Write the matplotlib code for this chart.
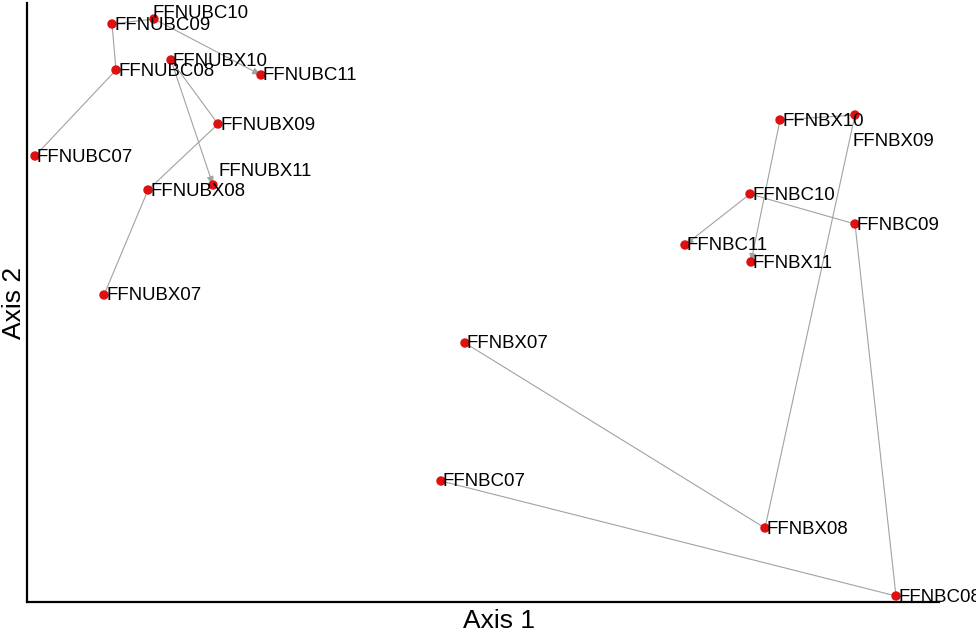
import matplotlib
matplotlib.use("Agg")
import matplotlib.pyplot as plt

plt.rcParams['font.family'] = ['Liberation Sans', 'DejaVu Sans']

# Ordination scores (arbitrary axis units), trajectories 07 -> 11
groups = ["FFNUBC", "FFNUBX", "FFNBC", "FFNBX"]
years = ["07", "08", "09", "10", "11"]

FFNUBC_x = [8, 89, 85, 127, 234]
FFNUBC_y = [446, 532, 578, 583, 527]
FFNUBX_x = [77, 121, 191, 144, 186]
FFNUBX_y = [307, 412, 478, 542, 417]
FFNBC_x = [414, 869, 828, 723, 658]
FFNBC_y = [121, 6, 378, 408, 357]
FFNBX_x = [438, 738, 828, 753, 724]
FFNBX_y = [259, 74, 487, 482, 340]

series = {
    "FFNUBC": (FFNUBC_x, FFNUBC_y),
    "FFNUBX": (FFNUBX_x, FFNUBX_y),
    "FFNBC": (FFNBC_x, FFNBC_y),
    "FFNBX": (FFNBX_x, FFNBX_y),
}

# label offsets in pixels (layout only)
label_offset = {
    "FFNUBC10": (-2, 6),
    "FFNUBX11": (5, 14),
    "FFNBX09": (-3, -27),
}

fig = plt.figure(figsize=(9.76, 6.35), dpi=100)
ax = fig.add_axes([27/976, 33/635, 912/976, 599/635])

line_col = "#a2a2a2"
for g in groups:
    xs, ys = series[g]
    ax.plot(xs[:-1], ys[:-1], color=line_col, lw=0.8, zorder=1)
    ax.annotate("", xy=(xs[-1], ys[-1]), xytext=(xs[-2], ys[-2]),
                arrowprops=dict(arrowstyle="-|>,head_length=0.5,head_width=0.2",
                                color=line_col, lw=0.8, shrinkA=0, shrinkB=0),
                zorder=1)

for g in groups:
    xs, ys = series[g]
    ax.scatter(xs, ys, s=46, color="#e01010", edgecolors="none", zorder=3)
    for x, y, yr in zip(xs, ys, years):
        name = g + yr
        dx, dy = label_offset.get(name, (2, -1))
        ax.annotate(name, (x, y), xytext=(dx, dy), textcoords="offset pixels",
                    ha="left", va="center", fontsize=13.4, color="black", zorder=4)

ax.set_xlim(0, 912)
ax.set_ylim(0, 599)
ax.set_xticks([])
ax.set_yticks([])
for s in ["top", "right"]:
    ax.spines[s].set_visible(False)
for s in ["left", "bottom"]:
    ax.spines[s].set_linewidth(1.6)
    ax.spines[s].set_color("black")

ax.set_xlabel("Axis 1", fontsize=19)
ax.xaxis.set_label_coords(0.517, -0.012, transform=ax.transAxes)
ax.xaxis.label.set_va("top")
ax.set_ylabel("Axis 2", fontsize=19)
ax.yaxis.set_label_coords(-0.014, 0.5, transform=ax.transAxes)
ax.yaxis.label.set_va("center")

fig.savefig("out.png", dpi=100)
